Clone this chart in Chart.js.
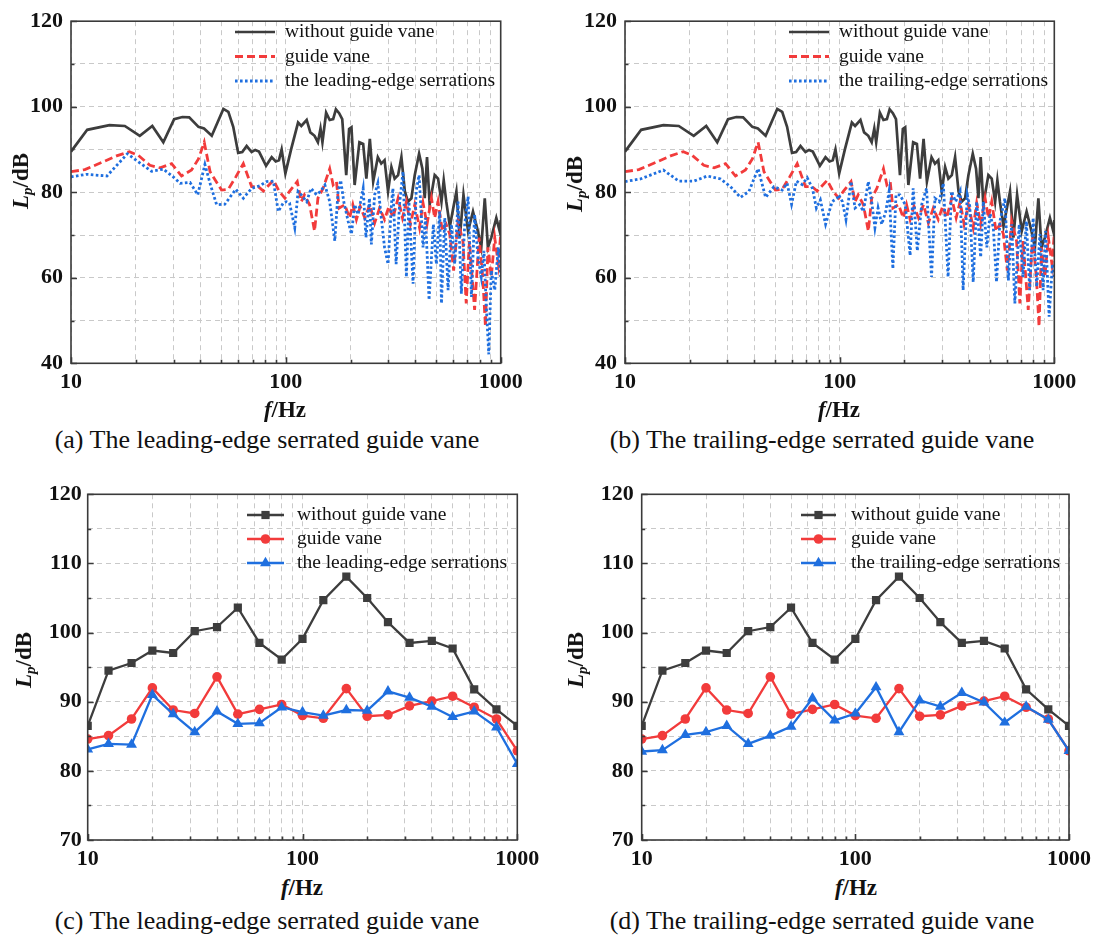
<!DOCTYPE html>
<html>
<head>
<meta charset="utf-8">
<title>Sound pressure level spectra</title>
<script src="https://cdn.jsdelivr.net/npm/chart.js@4.4.1/dist/chart.umd.min.js"></script>
<style>
  body { margin: 0; background: #fff; }
  #fig { position: relative; width: 1097px; height: 937px; font-family: "Liberation Serif", "Times New Roman", serif; color: #111; }
  #fig canvas { position: absolute; }
  .ytitle { position: absolute; font-weight: bold; font-size: 23px; white-space: nowrap; transform: translate(-50%, -50%) rotate(-90deg); }
  .ytitle sub { font-size: 15px; vertical-align: -4px; }
  .xtitle { position: absolute; font-weight: bold; font-size: 23px; white-space: nowrap; transform: translate(-50%, -50%); }
  .caption { position: absolute; font-size: 26px; white-space: nowrap; transform: translate(-50%, -50%); }
</style>
</head>
<body>
<div id="fig">
  <canvas id="panel-a" width="540" height="400" style="left:0;top:0"></canvas>
  <canvas id="panel-b" width="540" height="400" style="left:550px;top:0"></canvas>
  <canvas id="panel-c" width="550" height="400" style="left:0;top:470px"></canvas>
  <canvas id="panel-d" width="547" height="400" style="left:550px;top:470px"></canvas>

  <div class="ytitle" style="left:22px;top:181px"><i>L</i><sub><i>p</i></sub>/dB</div>
  <div class="ytitle" style="left:576px;top:184px"><i>L</i><sub><i>p</i></sub>/dB</div>
  <div class="ytitle" style="left:25px;top:660px"><i>L</i><sub><i>p</i></sub>/dB</div>
  <div class="ytitle" style="left:577px;top:660px"><i>L</i><sub><i>p</i></sub>/dB</div>

  <div class="xtitle" style="left:285px;top:410px"><i>f</i>/Hz</div>
  <div class="xtitle" style="left:839px;top:410px"><i>f</i>/Hz</div>
  <div class="xtitle" style="left:302px;top:888px"><i>f</i>/Hz</div>
  <div class="xtitle" style="left:856px;top:888px"><i>f</i>/Hz</div>

  <div class="caption" style="left:267px;top:440px">(a) The leading-edge serrated guide vane</div>
  <div class="caption" style="left:822px;top:440px">(b) The trailing-edge serrated guide vane</div>
  <div class="caption" style="left:267px;top:921px">(c) The leading-edge serrated guide vane</div>
  <div class="caption" style="left:822px;top:921px">(d) The trailing-edge serrated guide vane</div>
</div>

<script>
// frequency axis: grid lines at every 1..9 x 10^n, labels on decades
const xGridValues = [10, 20, 30, 40, 50, 60, 70, 80, 90, 100, 200, 300, 400, 500, 600, 700, 800, 900, 1000];
const xLabelValues = [10, 100, 1000];
const spectrumYTicks = [40, 50, 60, 70, 80, 90, 100, 110, 120];
const spectrumYLabels = [40, 60, 80, 100, 120];
const bandYTicks = [70, 75, 80, 85, 90, 95, 100, 105, 110, 115, 120];
const bandYLabels = [70, 80, 90, 100, 110, 120];

const seriesNames = ['without guide vane', 'guide vane'];
const leadingName = 'the leading-edge serrations';
const trailingName = 'the trailing-edge serrations';

// narrow-band spectra, [f (Hz), Lp (dB)]
const noVaneSpectrum = [
  [10, 89.5], [11.9, 94.6], [15.1, 95.7], [17.8, 95.5], [20.9, 93.2], [23.9, 95.5], [26.9, 91.7],
  [30.2, 97.1], [33.0, 97.6], [35.5, 97.5], [39.2, 95.3], [41.6, 94.9], [45.2, 93.2], [51.2, 99.5],
  [54.0, 98.8], [56.9, 95.3], [60.0, 89.2], [62.7, 89.4], [65.7, 90.8], [69.3, 89.4], [72.0, 89.9],
  [75.0, 89.5], [80.9, 86.2], [85.9, 88.2], [89.7, 87.2], [92.9, 87.5], [95.6, 90.0], [99.5, 84.4],
  [106, 90.2], [114, 96.3], [118, 95.5], [125, 96.9], [130, 94.0], [136, 93.2], [141, 91.7],
  [145, 94.9], [148, 91.7], [154, 98.6], [160, 96.9], [166, 97.1], [171, 99.4], [177, 98.5],
  [183, 97.1], [191, 84.0], [197, 94.8], [202, 95.2], [209, 81.7], [220, 91.7], [229, 91.3],
  [237, 83.2], [246, 92.5], [255, 82.5], [268, 88.2], [278, 86.7], [288, 87.5], [299, 80.2],
  [310, 85.9], [321, 83.2], [333, 84.0], [345, 88.2], [358, 80.2], [370, 77.8], [384, 78.6],
  [398, 84.0], [417, 89.0], [432, 85.5], [443, 78.6], [454, 88.2], [467, 77.1], [493, 84.0],
  [511, 83.2], [530, 77.8], [543, 82.8], [558, 77.8], [580, 72.0], [600, 76.0], [622, 80.2],
  [645, 69.4], [671, 79.4], [705, 70.9], [743, 75.5], [783, 70.9], [812, 67.1], [843, 78.6],
  [872, 67.1], [904, 69.4], [954, 74.0], [989, 70.9], [1000, 73.5]
];

const vaneSpectrum = [
  [10, 84.8], [11.6, 85.3], [14.1, 87.1], [16.3, 88.5], [18.7, 89.5], [20.6, 88.6], [23.3, 86.3],
  [26.0, 85.7], [29.4, 86.7], [32.7, 83.8], [36.4, 85.2], [39.2, 87.8], [41.7, 91.7], [44.4, 84.8],
  [50.2, 80.5], [54.0, 80.7], [58.5, 83.6], [63.4, 86.7], [69.3, 81.3], [74.5, 81.3], [78.6, 80.3],
  [87.5, 82.8], [93.2, 80.2], [99, 78.6], [104, 80.2], [113, 82.5], [118, 77.8], [122, 79.4],
  [129, 77.1], [136, 70.9], [141, 78.6], [149, 80.9], [160, 85.5], [166, 81.7], [172, 82.5],
  [177, 76.3], [188, 77.1], [198, 74.0], [205, 77.1], [213, 73.6], [222, 76.7], [233, 74.0],
  [246, 77.1], [259, 72.8], [273, 76.3], [288, 73.6], [302, 76.7], [315, 74.0], [333, 78.6],
  [349, 74.0], [364, 77.8], [380, 72.5], [398, 77.1], [419, 71.7], [435, 77.5], [454, 72.5],
  [476, 78.6], [493, 74.0], [511, 77.8], [535, 70.9], [558, 72.5], [579, 70.2], [604, 61.7],
  [633, 73.2], [667, 68.6], [691, 54.0], [715, 68.6], [756, 52.5], [793, 69.4], [825, 60.2],
  [849, 48.6], [872, 67.1], [904, 60.2], [938, 69.4], [975, 63.2], [1000, 70.2]
];

const leadingSpectrum = [
  [10, 83.6], [11.8, 84.2], [14.7, 83.8], [18.3, 89.0], [20.6, 87.1], [23.7, 84.9], [26.9, 85.4],
  [29.9, 83.6], [32.2, 82.1], [35.8, 82.3], [38.9, 79.4], [42.0, 86.5], [44.6, 81.7], [47.6, 77.1],
  [52.0, 77.2], [58.5, 80.7], [63.4, 78.6], [69.3, 80.9], [75.7, 81.5], [81.3, 82.5], [87.5, 82.6],
  [92.2, 75.5], [97.3, 77.5], [100.5, 77.8], [104, 77.5], [110, 71.7], [114, 80.2], [118, 79.4],
  [125, 77.8], [131, 80.9], [139, 79.4], [145, 80.2], [152, 81.7], [160, 77.8], [169, 68.6],
  [175, 80.2], [180, 82.8], [186, 77.8], [195, 73.2], [202, 70.2], [209, 77.1], [217, 74.8],
  [229, 80.9], [236, 69.4], [245, 78.6], [250, 67.8], [259, 79.4], [268, 82.1], [278, 74.0],
  [288, 67.1], [299, 63.2], [310, 77.1], [315, 80.9], [326, 63.2], [339, 77.8], [351, 84.8],
  [364, 60.2], [374, 77.8], [391, 58.6], [404, 80.2], [417, 84.0], [435, 67.1], [447, 74.0],
  [464, 54.8], [486, 72.5], [502, 63.2], [520, 75.5], [530, 54.0], [549, 74.0], [569, 57.1],
  [589, 72.5], [611, 63.2], [633, 77.8], [656, 56.3], [680, 72.5], [705, 79.0], [731, 55.5],
  [756, 74.8], [784, 64.8], [812, 60.2], [836, 66.3], [857, 53.2], [880, 42.1], [904, 61.7],
  [938, 57.1], [975, 67.1], [1000, 60.2]
];

const trailingSpectrum = [
  [10, 82.5], [11.8, 83.1], [15.1, 85.2], [17.8, 82.6], [20.9, 82.6], [24.2, 83.8], [27.9, 83.1],
  [31.0, 81.3], [34.5, 78.8], [37.8, 80.2], [41.7, 85.5], [45.2, 78.8], [49.4, 81.3], [54.0, 80.5],
  [56.9, 82.1], [59.7, 77.2], [62.9, 82.6], [66.9, 81.8], [70.6, 83.4], [74.7, 80.9], [77.9, 76.3],
  [81.3, 78.2], [86.0, 72.5], [92.2, 77.8], [97.3, 78.6], [99, 79.4], [103, 77.8], [107, 73.6],
  [113, 82.5], [118, 76.3], [124, 77.1], [129, 75.5], [136, 82.5], [141, 77.8], [146, 71.7],
  [151, 76.3], [157, 72.5], [164, 75.5], [170, 80.2], [177, 62.1], [183, 79.4], [191, 79.4],
  [202, 77.1], [213, 65.2], [220, 80.9], [230, 66.3], [241, 77.1], [254, 80.9], [268, 60.2],
  [278, 78.6], [291, 77.8], [304, 82.1], [320, 60.2], [332, 80.2], [347, 77.8], [364, 80.2],
  [376, 57.1], [393, 79.4], [404, 76.7], [419, 59.0], [435, 77.8], [454, 64.8], [467, 77.8],
  [485, 67.1], [502, 75.0], [520, 71.7], [538, 59.0], [558, 73.2], [589, 78.6], [611, 59.4],
  [633, 72.5], [655, 54.0], [686, 72.5], [715, 60.2], [741, 73.2], [768, 57.1], [797, 74.0],
  [828, 57.9], [857, 70.2], [887, 57.1], [910, 70.9], [946, 50.9], [980, 63.2], [1000, 60.2]
];

// one-third octave band levels
const bandCentres = [10, 12.5, 16, 20, 25, 31.5, 40, 50, 63, 80, 100, 125, 160, 200, 250, 315, 400, 500, 630, 800, 1000];
const bandNoVane = [86.5, 94.5, 95.6, 97.4, 97.05, 100.2, 100.8, 103.6, 98.5, 96.1, 99.1, 104.7, 108.1, 105.0, 101.5, 98.5, 98.8, 97.7, 91.8, 88.9, 86.5];
const bandVane = [84.6, 85.1, 87.5, 92.0, 88.8, 88.3, 93.6, 88.2, 88.9, 89.6, 88.0, 87.6, 91.9, 87.9, 88.1, 89.4, 90.1, 90.8, 89.2, 87.5, 82.9];
const bandLeading = [83.1, 83.9, 83.8, 91.0, 88.2, 85.6, 88.6, 86.8, 86.9, 89.2, 88.5, 88.0, 88.8, 88.7, 91.5, 90.6, 89.3, 87.8, 88.6, 86.3, 81.0];
const bandTrailing = [82.8, 83.0, 85.2, 85.6, 86.5, 83.9, 85.1, 86.4, 90.5, 87.3, 88.3, 92.1, 85.6, 90.2, 89.3, 91.3, 89.9, 87.0, 89.3, 87.4, 82.9];

const INK = '#3d3d3d';
const RED = '#f23b3b';
const BLUE = '#1f6fdf';
const tickFont = {family: '"Liberation Serif", "Times New Roman", serif', size: 22, weight: 'bold'};
const legendFont = '19.5px "Liberation Serif", "Times New Roman", serif';

function toPoints(pairs) {
    return pairs.map(([f, lp]) => ({x: f, y: lp}));
}

function bandPoints(values) {
    return bandCentres.map((f, i) => ({x: f, y: values[i]}));
}

function drawMarker(ctx, style, r, x, y) {
    ctx.beginPath();
    if (style === 'rect') {
        const s = r * Math.SQRT1_2;
        ctx.rect(x - s, y - s, 2 * s, 2 * s);
    } else if (style === 'triangle') {
        let rad = 0;
        ctx.moveTo(x + Math.sin(rad) * r, y - Math.cos(rad) * r);
        rad += Math.PI * 2 / 3;
        ctx.lineTo(x + Math.sin(rad) * r, y - Math.cos(rad) * r);
        rad += Math.PI * 2 / 3;
        ctx.lineTo(x + Math.sin(rad) * r, y - Math.cos(rad) * r);
        ctx.closePath();
    } else {
        ctx.arc(x, y, r, 0, Math.PI * 2);
    }
    ctx.fill();
}

// closed box round the plot with short inward ticks on the bottom and left
const framePlugin = {
    id: 'frame',
    afterDatasetsDraw(chart) {
        const {ctx, chartArea: a, scales} = chart;
        ctx.save();
        ctx.strokeStyle = '#3a3a3a';
        ctx.lineWidth = 1.6;
        ctx.setLineDash([]);
        ctx.beginPath();
        scales.x.ticks.forEach(t => {
            const px = Math.round(scales.x.getPixelForValue(t.value)) + 0.5;
            const len = t.label ? 6 : 3.5;
            ctx.moveTo(px, a.bottom);
            ctx.lineTo(px, a.bottom - len);
        });
        scales.y.ticks.forEach(t => {
            const py = Math.round(scales.y.getPixelForValue(t.value)) + 0.5;
            const len = t.label ? 6 : 3.5;
            ctx.moveTo(a.left, py);
            ctx.lineTo(a.left + len, py);
        });
        ctx.stroke();
        ctx.strokeRect(a.left, a.top, a.right - a.left, a.bottom - a.top);
        ctx.restore();
    }
};

// legend drawn inside the plot area, top right
const insideLegendPlugin = {
    id: 'insideLegend',
    afterDatasetsDraw(chart, args, opts) {
        const ctx = chart.ctx;
        ctx.save();
        chart.data.datasets.forEach((ds, i) => {
            const y = opts.y + i * opts.rowGap;
            ctx.strokeStyle = ds.borderColor;
            ctx.lineWidth = ds.borderWidth;
            ctx.setLineDash(ds.borderDash || []);
            ctx.beginPath();
            ctx.moveTo(opts.x, y);
            ctx.lineTo(opts.x + opts.length, y);
            ctx.stroke();
            ctx.setLineDash([]);
            if (ds.pointRadius) {
                ctx.fillStyle = ds.borderColor;
                drawMarker(ctx, ds.pointStyle, ds.pointRadius, opts.x + opts.length / 2, y);
            }
            ctx.fillStyle = '#111';
            ctx.font = legendFont;
            ctx.textBaseline = 'middle';
            ctx.textAlign = 'left';
            ctx.fillText(ds.label, opts.textX, y);
        });
        ctx.restore();
    }
};

function spectrumSets(serrated, serratedName) {
    return [
        {label: seriesNames[0], data: toPoints(noVaneSpectrum), borderColor: INK, borderWidth: 2.7, pointRadius: 0, order: 2},
        {label: seriesNames[1], data: toPoints(vaneSpectrum), borderColor: RED, borderWidth: 2.8, borderDash: [8, 4], pointRadius: 0, order: 1},
        {label: serratedName, data: toPoints(serrated), borderColor: BLUE, borderWidth: 2.8, borderDash: [2.6, 2.4], pointRadius: 0, order: 0}
    ];
}

function bandSets(serrated, serratedName) {
    return [
        {label: seriesNames[0], data: bandPoints(bandNoVane), borderColor: INK, backgroundColor: INK, borderWidth: 2.3,
            pointStyle: 'rect', pointRadius: 5.8, pointBorderWidth: 0, order: 2},
        {label: seriesNames[1], data: bandPoints(bandVane), borderColor: RED, backgroundColor: RED, borderWidth: 2.3,
            pointStyle: 'circle', pointRadius: 4.8, pointBorderWidth: 0, order: 1},
        {label: serratedName, data: bandPoints(serrated), borderColor: BLUE, backgroundColor: BLUE, borderWidth: 2.3,
            pointStyle: 'triangle', pointRadius: 6.3, pointBorderWidth: 0, order: 0}
    ];
}

function makePanel(id, panel) {
    const canvas = document.getElementById(id);
    const area = panel.area;
    const gridStyle = {color: '#c9c9c9', lineWidth: 1, drawTicks: false};
    const borderStyle = {display: false, dash: [5, 4]};
    return new Chart(canvas, {
        type: 'line',
        data: {datasets: panel.datasets},
        options: {
            responsive: false,
            animation: false,
            devicePixelRatio: 1,
            layout: {padding: {left: 0, top: area.top, right: canvas.width - area.right, bottom: 0}},
            elements: {line: {tension: 0}},
            plugins: {
                legend: {display: false},
                tooltip: {enabled: false},
                insideLegend: panel.legend
            },
            scales: {
                x: {
                    type: 'logarithmic',
                    min: 10,
                    max: 1000,
                    afterFit: s => { s.height = canvas.height - area.bottom; },
                    afterBuildTicks: s => { s.ticks = xGridValues.map(v => ({value: v})); },
                    ticks: {
                        callback: v => xLabelValues.includes(v) ? String(v) : '',
                        font: tickFont, color: '#111', padding: 6, maxRotation: 0, autoSkip: false
                    },
                    grid: gridStyle,
                    border: borderStyle
                },
                y: {
                    min: panel.yTicks[0],
                    max: panel.yTicks[panel.yTicks.length - 1],
                    afterFit: s => { s.width = area.left; },
                    afterBuildTicks: s => { s.ticks = panel.yTicks.map(v => ({value: v})); },
                    ticks: {
                        callback: v => panel.yLabels.includes(v) ? String(v) : '',
                        font: tickFont, color: '#111', padding: panel.yPad, autoSkip: false
                    },
                    grid: gridStyle,
                    border: borderStyle
                }
            }
        },
        plugins: [framePlugin, insideLegendPlugin]
    });
}

makePanel('panel-a', {
    area: {left: 71, top: 17.3, right: 500.7, bottom: 363.3},
    yTicks: spectrumYTicks, yLabels: spectrumYLabels, yPad: 8,
    datasets: spectrumSets(leadingSpectrum, leadingName),
    legend: {x: 235, length: 40, textX: 285, y: 32, rowGap: 24.5}
});

makePanel('panel-b', {
    area: {left: 75, top: 17.3, right: 504.3, bottom: 363.3},
    yTicks: spectrumYTicks, yLabels: spectrumYLabels, yPad: 8,
    datasets: spectrumSets(trailingSpectrum, trailingName),
    legend: {x: 239, length: 40, textX: 289, y: 32, rowGap: 24.5}
});

makePanel('panel-c', {
    area: {left: 87.7, top: 24.3, right: 517.3, bottom: 370},
    yTicks: bandYTicks, yLabels: bandYLabels, yPad: 6,
    datasets: bandSets(bandLeading, leadingName),
    legend: {x: 247, length: 37, textX: 297, y: 45, rowGap: 24}
});

makePanel('panel-d', {
    area: {left: 91.7, top: 24.3, right: 521.3, bottom: 370},
    yTicks: bandYTicks, yLabels: bandYLabels, yPad: 8,
    datasets: bandSets(bandTrailing, trailingName),
    legend: {x: 251, length: 35, textX: 301, y: 45, rowGap: 24}
});
</script>
</body>
</html>
